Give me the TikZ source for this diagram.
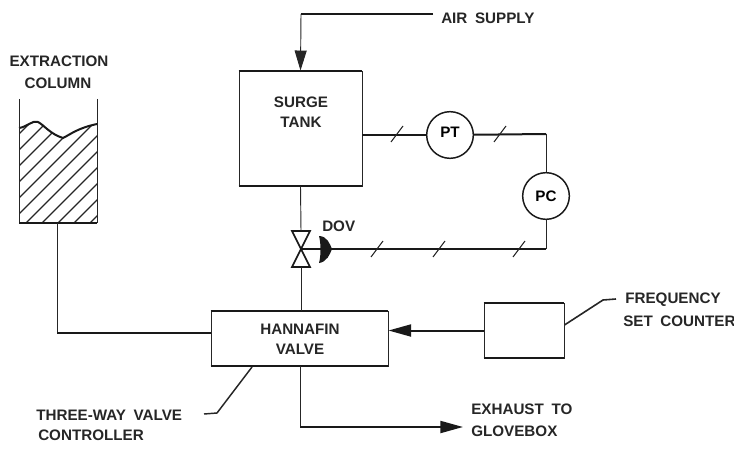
\documentclass[tikz,border=0pt]{standalone}
\usepackage{fontspec}
\setmainfont[WordSpace=1.8]{Liberation Sans}
\usetikzlibrary{arrows.meta}
\newcommand{\labelfont}{\fontsize{11.4}{12}\bfseries\selectfont}
\tikzset{
  x=0.75pt,y=-0.75pt,
  thinline/.style={line width=0.7pt,black!85},
  heavy/.style={line width=1.5pt,black!90},
  boxnode/.style={draw=black!85,line width=0.7pt,inner sep=0pt},
  circ/.style={circle,draw=black!90,line width=1.1pt,minimum size=35pt,inner sep=0pt,font=\labelfont},
  lbl/.style={inner sep=0pt,font=\labelfont,text=black!85,anchor=west},
  ctr/.style={inner sep=0pt,font=\labelfont,text=black!85},
  bigarrow/.style={-{Triangle[length=17pt,width=9pt]}},
  airarrow/.style={-{Triangle[length=15pt,width=9pt]}},
  hash/.style={line width=0.8pt,black!85},
}
\begin{document}
\begin{tikzpicture}
\useasboundingbox (0,0) rectangle (734,449);
% boxes
\node[boxnode,minimum width=92.25pt,minimum height=86.25pt] (tank) at (300.5,128.5) {};
\node[boxnode,minimum width=132.75pt,minimum height=41.25pt] (hann) at (299.5,338.5) {};
\node[boxnode,minimum width=60pt,minimum height=41.25pt] (count) at (524,330.5) {};
\draw[heavy] (tank.north west) -- (tank.north east);
\draw[heavy] (tank.south west) -- (tank.south east);
\draw[heavy] (hann.north west) -- (hann.north east);
\draw[heavy] (hann.south west) -- (hann.south east);
\draw[heavy] (count.north west) -- (count.north east);
\draw[heavy] (count.south west) -- (count.south east);
% box texts
\node[ctr] (t1) at (301,102) {SURGE};
\node[ctr] (t2) at (301,122) {TANK};
\node[ctr] (h1) at (300,329) {HANNAFIN};
\node[ctr] (h2) at (300,349) {VALVE};
% column
\coordinate (cnw) at (19,99);
\coordinate (cne) at (97,99);
\coordinate (csw) at (19,223);
\coordinate (cse) at (97,223);
\begin{scope}
\clip (19,128) .. controls (27,127) and (32,120) .. (38,122) .. controls (44,125) and (50,134) .. (63,138) .. controls (71,134) and (78,128) .. (97,124) -- (cse) -- (csw) -- cycle;
\foreach \k in {0,...,13}{
  \draw[line width=1pt,black!85] (-70+16*\k,223) -- ++(150,-150);
}
\end{scope}
\draw[heavy] (19,128) .. controls (27,127) and (32,120) .. (38,122) .. controls (44,125) and (50,134) .. (63,138) .. controls (71,134) and (78,128) .. (97,124);
\draw[thinline] (cnw) -- (csw);
\draw[thinline] (cne) -- (cse);
\draw[heavy] (csw) -- (cse);
% column labels
\node[ctr] (c1) at (59,61) {EXTRACTION};
\node[ctr] (c2) at (58,83) {COLUMN};
% air
\node[lbl] (air) at (441,18) {AIR SUPPLY};
\coordinate (a1) at (301,14);
\draw[heavy] (433,14) -- (a1);
\draw[line width=0.7pt,black!85,airarrow] (a1) -- (tank.north);
% circles
\node[circ] (pt) at (450,135) {\raisebox{4pt}{PT}};
\node[circ] (pc) at (546,196) {PC};
\coordinate (k1) at (546,134);
\draw[heavy] (tank.east |- pt) -- (pt);
\draw[heavy] (pt) -- (k1);
\draw[thinline] (k1) -- (pc);
% valve
\coordinate (vc) at (301,249);
\path[draw=black!90,line width=1.2pt] (292,231) -- (310,231) -- (292,267) -- (310,267) -- cycle;
\fill[black!90] (319,236) .. controls (327,236) and (330,244) .. (332,249) .. controls (330,254) and (327,262) .. (319,263) .. controls (321,256) and (321,243) .. (319,236) -- cycle;
\node[lbl] (dov) at (322,226) {DOV};
\coordinate (act) at (325,249);
\coordinate (k2) at (546,249);
\draw[heavy] (vc) -- (act);
\draw[heavy] (act) -- (k2);
\draw[thinline] (k2) -- (pc);
\draw[thinline] (tank.south) -- (vc |- 0,231);
\draw[thinline] (vc |- 0,267) -- (hann.north -| vc);
% hashes
\foreach \x/\y in {397/134,500/134,377/249,439/249,519/249}{
  \draw[hash] (\x-6,\y+8) -- (\x+6,\y-8);
}
% hannafin connections
\coordinate (k0) at (57,223);
\coordinate (k3) at (57,333);
\draw[thinline] (k0) -- (k3);
\draw[heavy] (k3) -- (hann.west |- k3);
\draw[heavy,bigarrow] (count.west) -- (hann.east |- count.west);
\coordinate (k4) at (300,427);
\node[lbl] (ex1) at (471,409) {EXHAUST TO};
\node[lbl] (ex2) at (471,431) {GLOVEBOX};
\coordinate (ex) at (463,427);
\draw[thinline] (hann.south -| k4) -- (k4);
\draw[heavy,bigarrow] (k4) -- (ex);
% leaders
\node[lbl] (tw1) at (36,415) {THREE-WAY VALVE};
\node[lbl] (tw2) at (38,435) {CONTROLLER};
\draw[line width=1.1pt,black!85] (204,414) -- (217,413) -- (252,367);
\node[lbl] (f1) at (625,300) {FREQUENCY};
\node[lbl] (f2) at (623,321) {SET COUNTER};
\draw[line width=1.2pt,black!85] (count.east |- 0,325) -- (603,300) -- (616,299);
\end{tikzpicture}
\end{document}
